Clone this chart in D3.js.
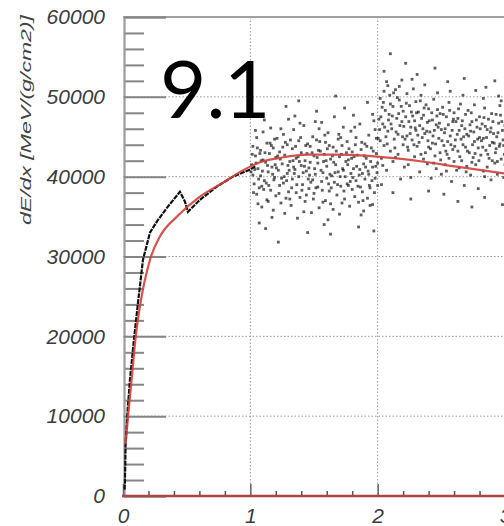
<!DOCTYPE html>
<html><head><meta charset="utf-8">
<script src="https://cdn.jsdelivr.net/npm/d3@7"></script>
<style>body{margin:0;background:#fff}svg{display:block}</style>
</head><body><svg id="c" width="504" height="526"></svg>
<script>
const xTicks = [0, 1, 2, 3];
const yTicks = [0, 10000, 20000, 30000, 40000, 50000, 60000];
const yTitle = "dE/dx [MeV/(g/cm2)]";
const bigLabel = ["9.", "1"];

// measured dE/dx (black line, low energy part)
const lineX = [0.012,0.015,0.018,0.02,0.035,0.055,0.086,0.118,0.157,0.212,0.267,0.345,0.447,0.486,0.51,0.604,0.737,0.863,1.0,1.04];
const lineY = [800,1800,4000,6300,10500,14600,19600,24250,29600,33000,34400,36100,38100,36900,35600,37100,38750,40000,40900,41300];

// fit curve (red)
const fitX = [0.02,0.04,0.07,0.10,0.133,0.212,0.29,0.424,0.604,0.784,0.92,1.075,1.25,1.45,1.7,2.0,2.35,2.62,3.0];
const fitY = [6500,10000,15000,20000,23750,29600,32500,35000,37500,39250,40600,41800,42400,42750,42750,42500,41900,41250,40400];

// scattered measurements
const scatter = [
[1.01,41500],[1.02,40200],[1.02,43800],[1.03,39100],[1.04,42600],[1.05,37800],[1.05,44900],[1.06,41000],[1.07,38600],[1.08,43300],[1.08,40100],[1.09,36200],[1.10,42100],[1.10,45600],
[1.11,39500],[1.12,41800],[1.13,37100],[1.13,44200],[1.14,40600],[1.15,42900],[1.16,38300],[1.16,46100],[1.17,41200],[1.18,35800],[1.18,43600],[1.19,39900],[1.20,42400],[1.20,37600],
[1.21,44800],[1.22,40800],[1.23,38900],[1.23,43100],[1.24,36700],[1.25,41600],[1.26,45300],[1.26,39200],[1.27,42700],[1.28,37300],[1.29,40400],[1.29,44000],[1.30,38100],[1.30,47200],
[1.31,41900],[1.32,36400],[1.33,43500],[1.33,39700],[1.34,45900],[1.35,40900],[1.36,38000],[1.36,42300],[1.37,34800],[1.38,44500],[1.38,40000],[1.39,37400],[1.40,43000],[1.40,41400],
[1.41,39000],[1.42,46400],[1.43,42000],[1.43,36900],[1.44,40700],[1.45,44100],[1.46,38500],[1.46,41100],[1.47,43800],[1.48,35500],[1.49,39600],[1.49,45000],[1.50,42600],[1.50,37900],
[1.51,40300],[1.52,44600],[1.53,38700],[1.53,41700],[1.54,36100],[1.55,43200],[1.56,39400],[1.56,46800],[1.57,40500],[1.58,42800],[1.59,37000],[1.59,44300],[1.60,39800],[1.60,41300],
[1.61,45500],[1.62,38200],[1.63,42200],[1.63,36600],[1.64,40100],[1.65,43700],[1.66,39300],[1.66,47500],[1.67,41500],[1.68,37700],[1.69,44700],[1.69,40600],[1.70,35300],[1.70,42500],
[1.71,38800],[1.72,43900],[1.73,40800],[1.73,46200],[1.74,37200],[1.75,41900],[1.76,39100],[1.76,44400],[1.77,42100],[1.78,36300],[1.79,40400],[1.79,45700],[1.80,38400],[1.80,43100],
[1.81,41000],[1.82,37500],[1.83,44900],[1.83,39500],[1.84,42700],[1.85,36800],[1.86,40900],[1.86,46600],[1.87,43400],[1.88,38100],[1.89,41600],[1.89,35700],[1.90,44100],[1.90,39700],
[1.91,42300],[1.92,37300],[1.93,45200],[1.93,40300],[1.94,38600],[1.95,43600],[1.96,41200],[1.96,36500],[1.97,47000],[1.98,39800],[1.99,42900],[1.99,44800],[2.00,38900],[2.00,41700],
[1.015,42800],[1.035,40900],[1.065,39700],[1.085,42000],[1.115,43000],[1.145,38900],[1.175,40300],[1.205,41100],[1.235,42200],[1.265,40000],[1.295,41400],[1.325,38600],[1.355,43800],[1.385,41900],[1.415,40500],[1.445,42900],[1.475,39300],[1.505,41000],[1.535,43300],[1.565,38300],[1.595,42000],[1.625,40300],[1.655,41800],[1.685,39000],[1.715,42800],[1.745,40000],[1.775,43500],[1.805,39900],[1.835,41300],[1.865,38700],[1.895,42600],[1.925,40700],[1.955,39500],[1.985,41300],
[1.025,38000],[1.055,43600],[1.095,40700],[1.125,39200],[1.155,44200],[1.195,41500],[1.225,37900],[1.255,43700],[1.285,39500],[1.315,44600],[1.345,40400],[1.375,42500],[1.405,38300],[1.435,43900],[1.465,40200],[1.495,37200],[1.525,42400],[1.555,40800],[1.585,45200],[1.615,39100],[1.645,42600],[1.675,43200],[1.705,40000],[1.735,38200],[1.765,41500],[1.795,42300],[1.825,44000],[1.855,40200],[1.885,37000],[1.915,43800],[1.945,41900],[1.975,38000],
[1.005,40600],[1.045,41700],[1.075,42900],[1.105,38400],[1.135,41400],[1.165,43900],[1.185,39600],[1.215,42600],[1.245,39800],[1.275,44300],[1.305,40800],[1.335,42000],[1.365,39000],[1.395,44900],[1.425,41300],[1.455,39700],[1.485,43000],[1.515,38600],[1.545,44400],[1.575,41900],[1.605,43500],[1.635,38600],[1.665,40500],[1.695,45300],[1.725,41000],[1.755,43000],[1.785,39400],[1.815,42500],[1.845,38800],[1.875,44300],[1.905,41200],[1.935,38900],[1.965,43200],[1.995,40500],
[1.04,45800],[1.09,38800],[1.14,36900],[1.19,44700],[1.24,46000],[1.31,37200],[1.34,41200],[1.39,46700],[1.44,37700],[1.47,41800],[1.54,46000],[1.57,36800],[1.62,43900],[1.65,35900],[1.71,44900],[1.77,38900],[1.82,46200],[1.88,40400],[1.94,36400],[1.98,45900],
[1.06,36600],[1.11,47100],[1.17,34900],[1.27,35400],[1.35,47600],[1.42,35600],[1.51,46900],[1.61,34600],[1.72,36700],[1.81,47700],[1.87,35200],[1.96,47800],
[1.12,33500],[1.28,48800],[1.45,33000],[1.52,48200],[1.63,32800],[1.74,48600],[1.85,33700],[1.92,49300],[1.07,34200],[1.38,49500],[1.58,34000],[1.97,33200],[1.22,31800],[1.67,50100],
[2.01,47200],[2.02,44500],[2.02,49800],[2.03,42300],[2.04,46600],[2.05,50700],[2.05,43900],[2.06,48300],[2.07,40800],[2.08,45700],[2.08,51400],[2.09,47800],[2.10,43200],[2.10,49100],
[2.015,45900],[2.035,48700],[2.055,46200],[2.075,44100],[2.095,50200],
[2.11,46000],[2.12,41900],[2.12,48800],[2.13,44700],[2.14,50900],[2.15,47300],[2.16,42800],[2.16,45300],[2.17,49600],[2.18,39700],[2.19,46900],[2.19,52100],[2.20,44000],[2.20,48200],
[2.115,47600],[2.135,43600],[2.155,49900],[2.175,46400],[2.195,45000],
[2.21,41200],[2.22,47500],[2.23,45100],[2.23,50400],[2.24,43300],[2.25,48900],[2.26,46200],[2.26,39900],[2.27,44600],[2.28,51000],[2.29,47000],[2.29,42500],[2.30,45800],[2.30,49400],
[2.215,44700],[2.245,46900],[2.265,48100],[2.285,44000],
[2.31,43800],[2.32,48100],[2.33,46400],[2.33,40600],[2.34,50200],[2.35,44900],[2.36,42200],[2.36,47700],[2.37,45400],[2.38,49000],[2.39,41600],[2.39,46800],[2.40,43700],[2.40,48500],
[2.315,45200],[2.345,47300],[2.375,43000],[2.395,44500],
[2.41,45600],[2.42,39800],[2.43,47100],[2.43,44200],[2.44,49700],[2.45,42600],[2.46,46500],[2.46,41000],[2.47,48400],[2.48,44800],[2.49,43000],[2.49,47900],[2.50,45900],[2.50,40300],
[2.415,43500],[2.445,45800],[2.475,46200],[2.495,42100],
[2.51,48700],[2.52,43900],[2.53,46000],[2.53,41500],[2.54,47500],[2.55,44400],[2.56,42300],[2.56,49300],[2.57,45100],[2.58,39400],[2.59,46900],[2.59,43400],[2.60,48000],[2.60,41900],
[2.525,45500],[2.545,42800],[2.575,44000],[2.595,47200],
[2.61,44600],[2.62,40800],[2.63,47300],[2.63,43200],[2.64,45800],[2.65,49100],[2.66,42000],[2.66,46400],[2.67,44000],[2.68,38900],[2.69,47800],[2.69,43700],[2.70,45300],[2.70,41300],
[2.615,46900],[2.645,42500],[2.675,45000],[2.695,40600],
[2.71,48300],[2.72,43000],[2.73,45700],[2.73,40200],[2.74,46900],[2.75,42400],[2.76,44400],[2.76,49000],[2.77,41500],[2.78,46200],[2.79,43600],[2.79,38500],[2.80,47500],[2.80,44900],
[2.715,45100],[2.745,44000],[2.775,47100],[2.795,42000],
[2.81,42700],[2.82,46600],[2.83,40700],[2.83,44800],[2.84,48600],[2.85,43300],[2.86,45900],[2.86,41200],[2.87,47200],[2.88,43900],[2.89,39600],[2.89,46100],[2.90,44300],[2.90,42000],
[2.815,44500],[2.845,46300],[2.875,42300],[2.895,47900],
[2.91,45400],[2.92,41700],[2.93,47800],[2.93,43500],[2.94,40300],[2.95,46700],[2.96,44100],[2.96,48900],[2.97,42200],[2.98,45800],[2.99,39900],[2.99,43900],[3.00,46400],[3.00,41500],
[2.915,44200],[2.945,45500],[2.975,46900],[2.995,42800],
[2.005,44800],[2.025,47500],[2.045,49300],[2.065,45000],[2.085,47100],[2.105,46600],[2.125,50500],[2.145,45600],[2.165,47900],[2.185,48800],[2.205,46300],[2.225,49200],[2.235,43700],[2.255,45400],[2.275,47600],[2.295,46100],[2.305,48000],[2.325,44300],[2.335,49500],[2.355,46000],[2.365,48600],[2.385,45700],[2.405,47000],[2.425,48000],[2.435,45100],[2.455,44100],[2.465,47600],[2.485,46700],[2.505,44500],[2.515,47800],[2.535,43200],[2.555,46500],[2.565,48300],[2.585,45800],[2.605,43800],[2.625,45300],[2.635,48500],[2.655,44700],[2.665,47000],[2.685,46000],[2.705,43200],[2.725,46500],[2.735,48000],[2.755,45600],[2.765,42900],[2.785,44700],[2.805,46000],[2.825,43700],[2.835,47400],[2.855,44900],[2.865,42800],[2.885,45600],[2.905,46900],[2.925,43000],[2.935,45000],[2.955,43800],[2.965,47700],[2.985,44600],
[2.04,41400],[2.14,42400],[2.24,41500],[2.34,42800],[2.44,41700],[2.54,40700],[2.64,41100],[2.74,41800],[2.84,40000],[2.94,41900],
[2.07,51900],[2.17,51300],[2.27,52200],[2.37,51500],[2.47,50500],[2.57,50700],[2.67,50200],[2.83,49800],[2.97,49500],
[2.10,55400],[2.22,54200],[2.05,53200],[2.45,53600],[2.68,52300],[2.85,51200],[2.55,51900],[2.31,52800],[2.92,52000],[2.26,37200],[2.52,37800],[2.63,36900],[2.84,37400],[2.98,36500],[2.40,38200],[2.12,38000],[2.74,36200],[2.03,39000],[2.77,50800],[2.95,50100]
];

const svg = d3.select("#c");
const x = d3.scaleLinear().domain([0, 3]).range([123, 505]);
const y = d3.scaleLinear().domain([0, 60000]).range([496, 17]);
const x0 = x(0), xR = 504;

// gridlines
const grid = svg.append("g").attr("stroke", "#9a9a9a").attr("stroke-width", 1).attr("stroke-dasharray", "1.5,2");
grid.selectAll("line.h").data(yTicks.filter(d => d > 0 && d < 60000)).join("line")
  .attr("x1", x0).attr("x2", xR).attr("y1", d => y(d)).attr("y2", d => y(d));
grid.selectAll("line.v").data(xTicks.filter(d => d > 0 && d < 3)).join("line")
  .attr("x1", d => x(d)).attr("x2", d => x(d)).attr("y1", y(60000)).attr("y2", y(0));

// top frame
svg.append("line").attr("x1", x0).attr("x2", xR).attr("y1", y(60000)).attr("y2", y(60000))
  .attr("stroke", "#a0a0a0").attr("stroke-width", 2);

// y axis: minor then major
const yMinor = d3.range(0, 60001, 2000).filter(d => d % 10000 !== 0);
svg.append("g").attr("transform", `translate(${x0 + 1},0)`)
  .call(d3.axisLeft(y).tickValues(yMinor).tickSize(-20).tickFormat(""))
  .call(g => g.select(".domain").remove())
  .call(g => g.selectAll("line").attr("stroke", "#858585").attr("stroke-width", 2));
const yAx = svg.append("g").attr("transform", `translate(${x0 + 1},0)`)
  .call(d3.axisLeft(y).tickValues(yTicks).tickSize(-42).tickPadding(19).tickFormat(d3.format("d")));
yAx.select(".domain").attr("stroke", "#9c9c9c").attr("stroke-width", 2.2);
yAx.selectAll("line").attr("stroke", "#858585").attr("stroke-width", 2);
yAx.selectAll("text").attr("font-family", "Liberation Sans, Arial, sans-serif").attr("font-style", "italic")
  .attr("font-size", 21).attr("fill", "#3c3c3c");

// x axis
const xMinor = d3.range(0, 3.001, 0.2).filter(d => Math.abs(d - Math.round(d)) > 1e-6);
svg.append("g").attr("transform", `translate(0,${y(0)})`)
  .call(d3.axisBottom(x).tickValues(xMinor).tickSize(-5).tickFormat(""))
  .call(g => g.select(".domain").remove())
  .call(g => g.selectAll("line").attr("stroke", "#555").attr("stroke-width", 1.5));
const xAx = svg.append("g").attr("transform", `translate(0,${y(0)})`)
  .call(d3.axisBottom(x).tickValues(xTicks).tickSize(-12).tickPadding(12).tickFormat(d3.format("d")));
xAx.select(".domain").remove();
xAx.selectAll("line").attr("stroke", "#666").attr("stroke-width", 1.5);
xAx.selectAll("text").attr("font-family", "Liberation Sans, Arial, sans-serif").attr("font-style", "italic")
  .attr("font-size", 21).attr("fill", "#3c3c3c");

// scatter
svg.append("g").selectAll("rect").data(scatter).join("rect")
  .attr("x", d => x(d[0]) - 1.4).attr("y", d => y(d[1]) - 1.4)
  .attr("width", 2.8).attr("height", 2.8).attr("fill", "#111").attr("fill-opacity", 0.68);

// black measured line
const lineData = lineX.map((v, i) => [v, lineY[i]]);
svg.append("path").datum(lineData)
  .attr("d", d3.line().x(d => x(d[0])).y(d => y(d[1])))
  .attr("fill", "none").attr("stroke", "#111").attr("stroke-width", 2.2).attr("stroke-dasharray", "5,1");

// red fit
const fitData = fitX.map((v, i) => [v, fitY[i]]);
svg.append("path").datum(fitData)
  .attr("d", d3.line().curve(d3.curveMonotoneX).x(d => x(d[0])).y(d => y(d[1])))
  .attr("fill", "none").attr("stroke", "#d2403a").attr("stroke-width", 2.2).attr("stroke-opacity", 0.9);

// bottom axis line (red)
svg.append("line").attr("x1", x(0) - 1).attr("x2", xR).attr("y1", y(0)).attr("y2", y(0))
  .attr("stroke", "#a8463f").attr("stroke-width", 2.5);

// y title
svg.append("text").attr("transform", `translate(31,${120}) rotate(-90)`)
  .attr("text-anchor", "middle").attr("font-family", "Liberation Sans, Arial, sans-serif")
  .attr("font-style", "italic").attr("font-size", 15).attr("fill", "#444")
  .attr("textLength", 210).attr("lengthAdjust", "spacingAndGlyphs").text(yTitle);

// big label
const big = svg.append("g").attr("font-family", "Lato, sans-serif").attr("font-size", 80).attr("fill", "#000");
big.append("text").attr("x", 160).attr("y", 118).text(bigLabel[0]);
big.append("text").attr("x", 224).attr("y", 118).text(bigLabel[1]);
</script></body></html>
